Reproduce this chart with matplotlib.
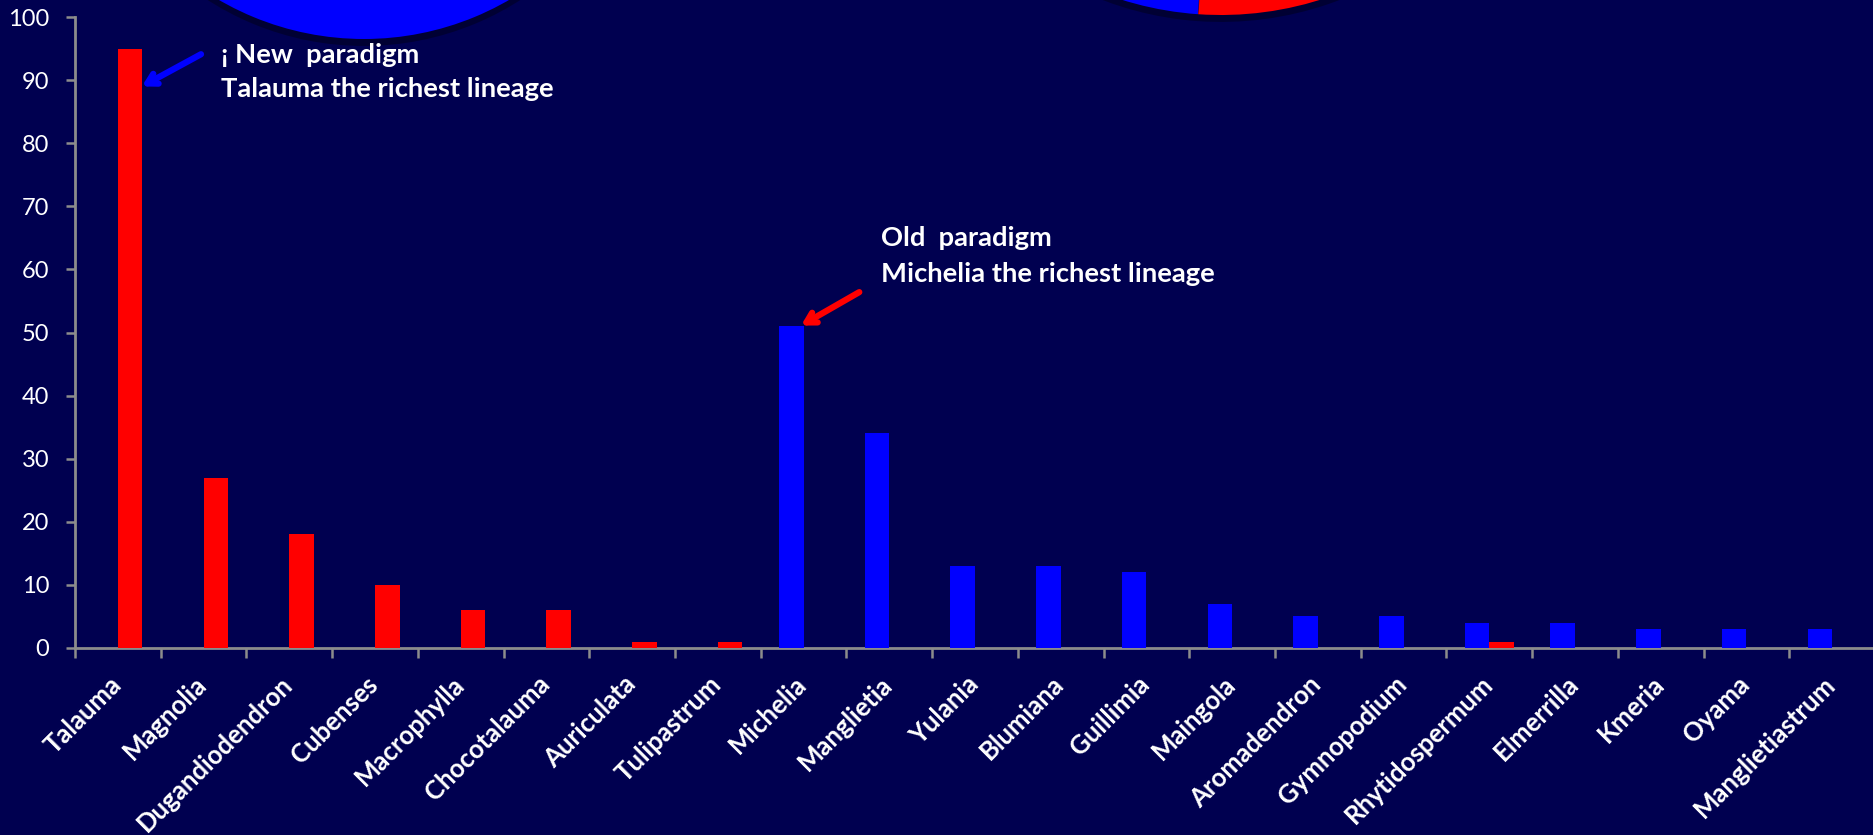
import matplotlib
matplotlib.use("Agg")
import matplotlib.pyplot as plt
import matplotlib.patheffects as pe
from matplotlib.transforms import offset_copy
import numpy as np

# ---- data ----
categories = ["Talauma", "Magnolia", "Dugandiodendron", "Cubenses", "Macrophylla",
              "Chocotalauma", "Auriculata", "Tulipastrum", "Michelia", "Manglietia",
              "Yulania", "Blumiana", "Guillimia", "Maingola", "Aromadendron",
              "Gymnopodium", "Rhytidospermum", "Elmerrilla", "Kmeria", "Oyama",
              "Manglietiastrum"]
blue_values = [0, 0, 0, 0, 0, 0, 0, 0, 51, 34, 13, 13, 12, 7, 5, 5, 4, 4, 3, 3, 3]
red_values = [95, 27, 18, 10, 6, 6, 1, 1, 0, 0, 0, 0, 0, 0, 0, 0, 1, 0, 0, 0, 0]
yticks = list(range(0, 101, 10))

# pie shares (red, blue) shown partly above the chart
left_pie = [0, 1]
right_pie = [sum(red_values), sum(blue_values)]

BG = "#000050"
RED = "#FF0000"
BLUE = "#0000FF"
GRID = "#8C8C8C"
FONT = ["Lato", "DejaVu Sans"]

W, H = 1874, 835
fig = plt.figure(figsize=(W / 100, H / 100), dpi=100, facecolor=BG)

ax = fig.add_axes([75 / W, 1 - 648 / H, 1800 / W, (648 - 17) / H])
ax.set_facecolor(BG)

x = np.arange(len(categories))
bw = 0.286
ax.bar(x - bw / 2, blue_values, width=bw, color=BLUE, zorder=3)
ax.bar(x + bw / 2, red_values, width=bw, color=RED, zorder=3)

ax.set_xlim(-0.5, len(categories) - 0.5)
ax.set_ylim(0, 100)

for s in ["top", "right"]:
    ax.spines[s].set_visible(False)
for s in ["left", "bottom"]:
    ax.spines[s].set_color(GRID)
    ax.spines[s].set_linewidth(2)

ax.set_yticks(yticks)
ax.set_yticklabels([str(v) for v in yticks], fontsize=17, color="white", family=FONT)
ax.tick_params(axis="y", length=6.5, width=1.8, color=GRID, pad=12)

ax.set_xticks(x)
ax.set_xticklabels([])
ax.tick_params(axis="x", which="major", length=0)
ax.set_xticks(np.arange(-0.5, len(categories), 1.0), minor=True)
ax.tick_params(axis="x", which="minor", length=7, width=1.8, color=GRID)

trans = offset_copy(ax.transData, fig=fig, x=5, y=-38, units="dots")
for xi, name in zip(x, categories):
    ax.text(xi, 0, name, rotation=45, rotation_mode="anchor", ha="right", va="baseline",
            fontsize=18.5, fontweight="bold", color="white", family=FONT,
            transform=trans, clip_on=False)

# annotations
arrow = "->,head_length=0.7,head_width=0.4"
ax.annotate("", xy=(0.28, 89.0), xytext=(0.97, 94.1),
            arrowprops=dict(arrowstyle=arrow, color=BLUE, lw=4.5,
                            shrinkA=0, shrinkB=0), zorder=5)
ax.annotate("", xy=(7.97, 51.1), xytext=(8.65, 56.4),
            arrowprops=dict(arrowstyle=arrow, color=RED, lw=4.5,
                            shrinkA=0, shrinkB=0), zorder=5)

txt = dict(fontsize=19.7, fontweight="bold", color="white", family=FONT,
           va="center", ha="left")
fig.text(221 / W, 1 - 55 / H, "¡ New  paradigm", **txt)
fig.text(221 / W, 1 - 89 / H, "Talauma the richest lineage", **txt)
fig.text(881 / W, 1 - 238 / H, "Old  paradigm", **txt)
fig.text(881 / W, 1 - 274 / H, "Michelia the richest lineage", **txt)

# pies, mostly above the visible area
shadow = [pe.SimplePatchShadow(offset=(0, -5), shadow_rgbFace="#000020", alpha=0.6),
          pe.Normal()]


def pie_axes(cx, cy, r):
    a = fig.add_axes([(cx - r) / W, 1 - (cy + r) / H, 2 * r / W, 2 * r / H])
    a.set_axis_off()
    return a


pa = pie_axes(364, -250, 289)
wedges, _ = pa.pie(left_pie, colors=[RED, BLUE], radius=1, startangle=266,
                   counterclock=True, wedgeprops=dict(linewidth=0))
for w in wedges:
    w.set_path_effects(shadow)
pa.set_xlim(-1, 1)
pa.set_ylim(-1, 1)

pb = pie_axes(1221, -316, 331)
wedges, _ = pb.pie(right_pie, colors=[RED, BLUE], radius=1, startangle=266,
                   counterclock=True, wedgeprops=dict(linewidth=0))
for w in wedges:
    w.set_path_effects(shadow)
pb.set_xlim(-1, 1)
pb.set_ylim(-1, 1)

fig.savefig("out.png", dpi=100, facecolor=BG)
